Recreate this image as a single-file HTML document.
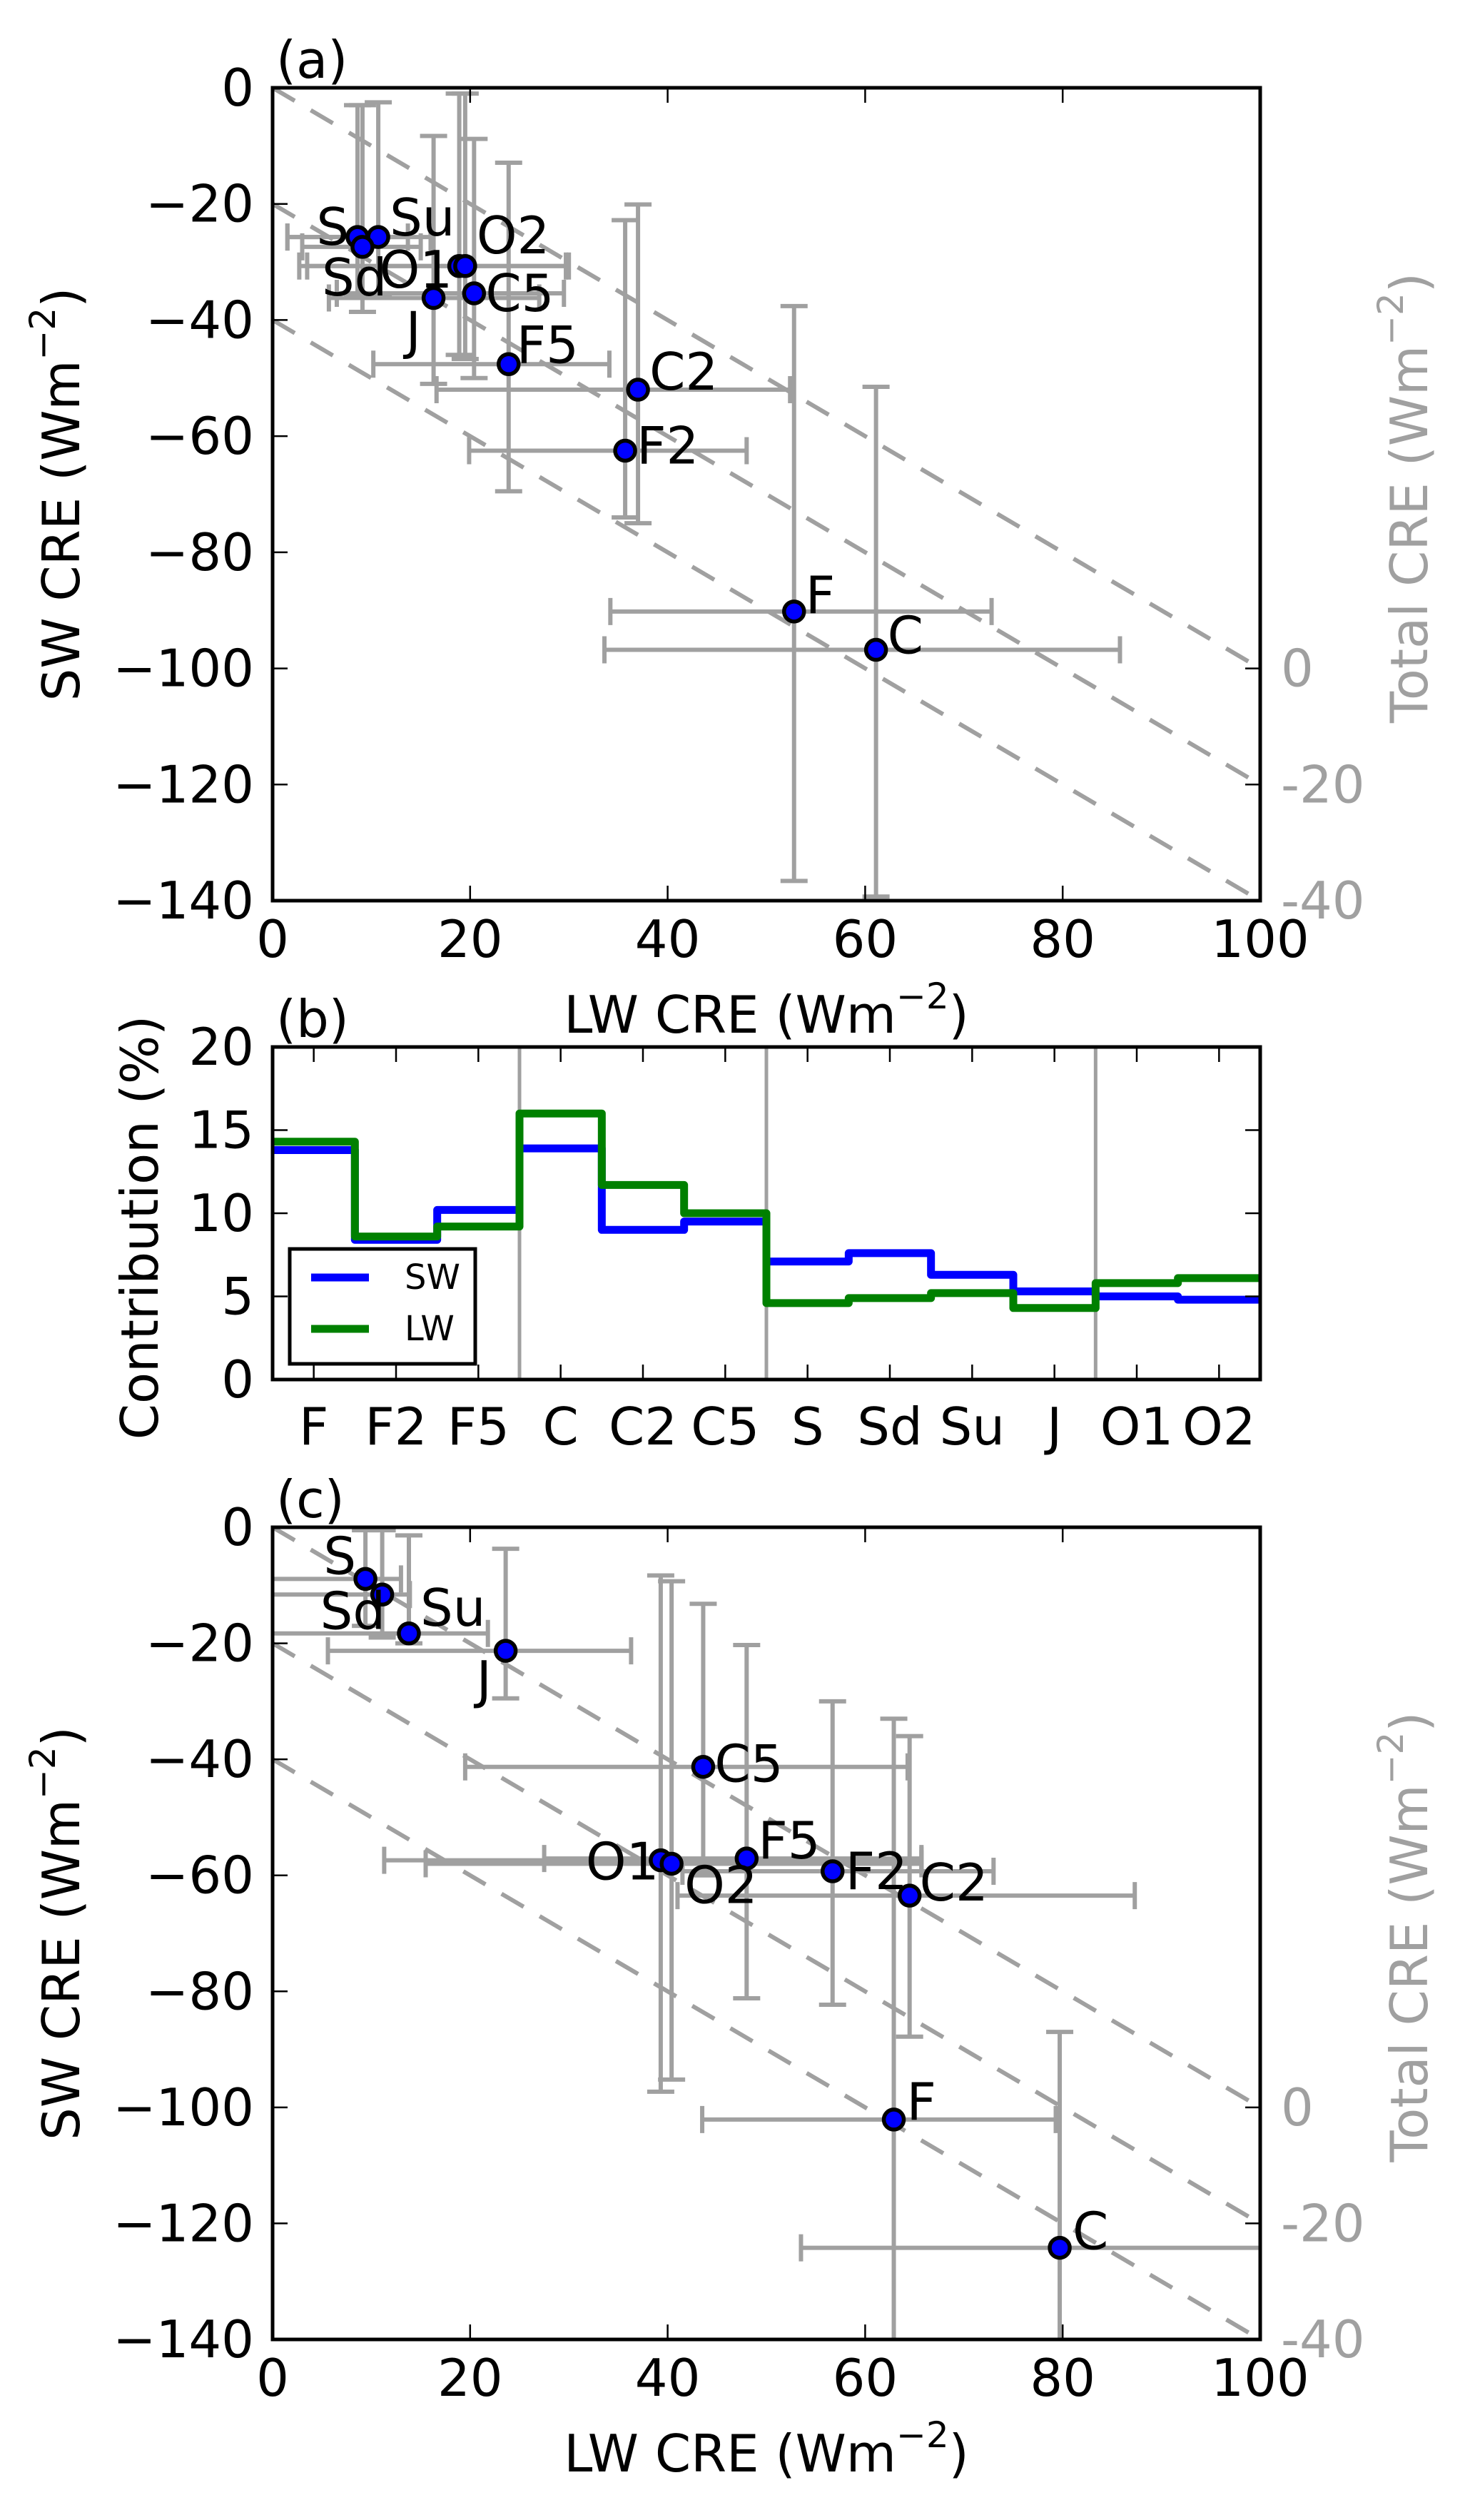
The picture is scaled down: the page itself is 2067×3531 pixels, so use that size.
<!DOCTYPE html>
<html><head><meta charset="utf-8"><style>
html,body{margin:0;padding:0;background:#fff;}
svg{display:block;font-family:"DejaVu Sans","Liberation Sans",sans-serif;}
</style></head><body>
<svg id="fig" xmlns="http://www.w3.org/2000/svg" width="2067" height="3531" viewBox="0 0 2067 3531"></svg>
<script>
// ---------- Panel (a) data ----------
const aNames = ["S","Su","Sd","O1","O2","J","C5","F5","C2","F2","F","C"];
const aLW    = [8.6,10.7,9.1,18.9,19.5,16.3,20.4,23.9,37.0,35.7,52.8,61.1];
const aSW    = [-25.7,-25.7,-27.4,-30.7,-30.7,-36.2,-35.4,-47.6,-52.0,-62.5,-90.2,-96.8];
const aLWlo  = [1.5,1.5,3.0,2.7,3.5,5.7,6.5,10.2,16.6,19.9,34.2,33.6];
const aLWhi  = [16.0,13.7,15.0,29.7,30.0,27.0,29.5,34.1,52.4,48.0,72.8,85.8];
const aSWhi  = [-3.0,-2.5,-3.0,-1.0,-1.0,-8.3,-8.8,-12.9,-20.1,-22.8,-37.6,-51.5];
const aSWlo  = [-36.0,-36.0,-38.6,-46.0,-46.7,-51.0,-50.0,-69.5,-75.0,-74.0,-136.6,-139.3];
const aLabDx = [-12,16,-57,-112,16,-39,16,11,16,16,16,16];
const aLabDy = [-14,-27,43,5,-43,46,0,-27,-25,-7,-23,-20];
const aLabAnchor = ["end","start","start","start","start","start","start","start","start","start","start","start"];

// ---------- Panel (c) data ----------
const cNames = ["S","Sd","Su","J","C5","O1","O2","F5","F2","C2","F","C"];
const cLW    = [9.4,11.1,13.8,23.6,43.6,39.3,40.4,48.0,56.7,64.5,62.9,79.7];
const cSW    = [-8.9,-11.6,-18.3,-21.3,-41.3,-57.4,-58.0,-57.1,-59.3,-63.5,-102.1,-124.2];
const cLWlo  = [-5,-5,-5,5.6,19.5,11.3,15.5,27.5,41.5,41.0,43.5,53.5];
const cLWhi  = [13.0,13.9,21.8,36.3,64.3,65.7,65.7,65.7,73.0,87.3,79.3,110];
const cSWhi  = [-0.5,-0.5,-1.4,-3.7,-13.2,-8.3,-9.3,-20.3,-30.0,-36.0,-33.0,-87.0];
const cSWlo  = [-17.0,-19.0,-20.0,-29.5,-60.0,-97.3,-95.2,-81.2,-82.3,-87.8,-150,-150];
const cLabDx = [-13,-87,16,-41,16,-105,18,16,18,14,18,18];
const cLabDy = [-32,23,-36,41,-4,2,30,-25,0,-18,-25,-23];
const cLabAnchor = ["end","start","start","start","start","start","start","start","start","start","start","start"];

// ---------- Panel (b) data ----------
const bCats = ["F","F2","F5","C","C2","C5","S","Sd","Su","J","O1","O2"];
const bSW   = [13.8,8.4,10.2,13.9,9.0,9.5,7.1,7.6,6.3,5.3,5.0,4.8];
const bLW   = [14.3,8.6,9.2,16.0,11.7,10.0,4.6,4.9,5.2,4.3,5.8,6.1];
const bGroupEdges = [3,6,10];
const bYTicks = [0,5,10,15,20];

const xTicks = [0,20,40,60,80,100];
const yTicks = [0,-20,-40,-60,-80,-100,-120,-140];
const totals = [0,-20,-40];

const NS = "http://www.w3.org/2000/svg";
const svg = document.getElementById('fig');
const GRAY = "#a0a0a0";
const FS = 72;
function el(tag, attrs, parent){
  const e = document.createElementNS(NS, tag);
  for (const k in attrs) e.setAttribute(k, attrs[k]);
  (parent||svg).appendChild(e);
  return e;
}
function text(str, x, y, extra, parent){
  const t = el('text', Object.assign({x:x, y:y, 'font-size':FS, fill:'#000'}, extra||{}), parent);
  t.textContent = str;
  return t;
}
function unitTitle(prefix, x, y, rot, color, name){
  const g = el('g', {transform:`translate(${x},${y})` + (rot?` rotate(${rot})`:'')});
  
  
  const t = el('text', {x:0, y:0, 'font-size':FS, fill:color, 'text-anchor':'middle', 'dominant-baseline':'central'}, g);
  t.appendChild(document.createTextNode(prefix + " (Wm"));
  const s = el('tspan', {'font-size':50, dy:-26}, t); s.textContent = "\u22122";
  const r = el('tspan', {'font-size':FS, dy:26}, t); r.textContent = ")";
  return g;
}

const X0 = 382, X1 = 1766;
function scatterPanel(top, bottom, names, LW, SW, LWlo, LWhi, SWhi, SWlo, dx, dy, anch, letter, pname){
  const xs = v => X0 + (v/100)*(X1-X0);
  const ys = v => top + (-v/140)*(bottom-top);
  const g = el('g', {});
  
  
  const cid = 'clip'+letter;
  const cp = el('clipPath', {id:cid}, g);
  el('rect', {x:X0, y:top, width:X1-X0, height:bottom-top}, cp);
  const inner = el('g', {'clip-path':`url(#${cid})`}, g);
  totals.forEach((t, i) => {
    const ln = el('line', {x1:xs(0), y1:ys(t), x2:xs(100), y2:ys(t-100), stroke:GRAY, 'stroke-width':6, 'stroke-dasharray':'36 26'}, inner);
    
    
  });
  names.forEach((n, i) => {
    const eb = el('g', {stroke:GRAY, 'stroke-width':6, fill:'none'}, inner);
    
    
    const px = xs(LW[i]), py = ys(SW[i]);
    el('line', {x1:xs(LWlo[i]), y1:py, x2:xs(LWhi[i]), y2:py}, eb);
    el('line', {x1:xs(LWlo[i]), y1:py-19, x2:xs(LWlo[i]), y2:py+19}, eb);
    el('line', {x1:xs(LWhi[i]), y1:py-19, x2:xs(LWhi[i]), y2:py+19}, eb);
    el('line', {x1:px, y1:ys(SWhi[i]), x2:px, y2:ys(SWlo[i])}, eb);
    el('line', {x1:px-19, y1:ys(SWhi[i]), x2:px+19, y2:ys(SWhi[i])}, eb);
    el('line', {x1:px-19, y1:ys(SWlo[i]), x2:px+19, y2:ys(SWlo[i])}, eb);
  });
  names.forEach((n, i) => {
    const px = xs(LW[i]), py = ys(SW[i]);
    const c = el('circle', {cx:px, cy:py, r:14, fill:'#0000ff', stroke:'#000', 'stroke-width':5.5}, g);
    
    
  });
  names.forEach((n, i) => {
    const px = xs(LW[i]), py = ys(SW[i]);
    const t = text(n, px+dx[i], py+dy[i], {'text-anchor':anch[i], 'dominant-baseline':'central'}, g);
    
    
  });
  const fr = el('rect', {x:X0, y:top, width:X1-X0, height:bottom-top, fill:'none', stroke:'#000', 'stroke-width':5}, g);
  
  
  xTicks.forEach(v => {
    const x = xs(v);
    el('line', {x1:x, y1:bottom, x2:x, y2:bottom-21, stroke:'#000', 'stroke-width':2.5}, g);
    el('line', {x1:x, y1:top, x2:x, y2:top+21, stroke:'#000', 'stroke-width':2.5}, g);
    const t = text(String(v), x, bottom+54, {'text-anchor':'middle', 'dominant-baseline':'central'}, g);
    
    
  });
  yTicks.forEach(v => {
    const y = ys(v);
    el('line', {x1:X0, y1:y, x2:X0+21, y2:y, stroke:'#000', 'stroke-width':2.5}, g);
    const t = text(v<0 ? '\u2212'+(-v) : String(v), 356, y, {'text-anchor':'end', 'dominant-baseline':'central'}, g);
    
    
  });
  totals.forEach(t0 => {
    const y = ys(t0-100);
    el('line', {x1:X1, y1:y, x2:X1-21, y2:y, stroke:'#000', 'stroke-width':2.5}, g);
    const t = text(t0<0 ? '-'+(-t0) : String(t0), 1795, y, {'text-anchor':'start', 'dominant-baseline':'central', fill:GRAY}, g);
    
    
  });
  const pl = text('('+letter+')', 387, top-14, {}, g);
  
  
  unitTitle('LW CRE', (X0+X1)/2, bottom+160, 0, '#000', 'x-axis-title');
  unitTitle('SW CRE', 86, (top+bottom)/2, -90, '#000', 'y-axis-title');
  unitTitle('Total CRE', 1975, (top+bottom)/2+5, -90, GRAY, 'right-axis-title');
}

scatterPanel(123, 1262, aNames, aLW, aSW, aLWlo, aLWhi, aSWhi, aSWlo, aLabDx, aLabDy, aLabAnchor, 'a', 'panel-a');
scatterPanel(2140, 3278, cNames, cLW, cSW, cLWlo, cLWhi, cSWhi, cSWlo, cLabDx, cLabDy, cLabAnchor, 'c', 'panel-c');

// ---------- Panel (b) ----------
(function(){
  const top = 1467, bottom = 1933;
  const n = bCats.length;
  const xe = e => X0 + e*(X1-X0)/n;
  const ys = v => bottom - (v/20)*(bottom-top);
  const g = el('g', {});
  
  
  bGroupEdges.forEach(e => {
    const l = el('line', {x1:xe(e), y1:top, x2:xe(e), y2:bottom, stroke:GRAY, 'stroke-width':5}, g);
    
    
  });
  function stepPath(vals){
    let d = `M${xe(0)},${ys(vals[0])}`;
    vals.forEach((v,i) => {
      d += ` L${xe(i)},${ys(v)} L${xe(i+1)},${ys(v)}`;
    });
    return d;
  }
  const sw = el('path', {d:stepPath(bSW), fill:'none', stroke:'#0000ff', 'stroke-width':11, 'stroke-linejoin':'round'}, g);
  
  
  const lw = el('path', {d:stepPath(bLW), fill:'none', stroke:'#008000', 'stroke-width':11, 'stroke-linejoin':'round'}, g);
  
  
  const fr = el('rect', {x:X0, y:top, width:X1-X0, height:bottom-top, fill:'none', stroke:'#000', 'stroke-width':5}, g);
  
  
  bCats.forEach((c,i) => {
    const x = xe(i+0.5);
    el('line', {x1:x, y1:bottom, x2:x, y2:bottom-21, stroke:'#000', 'stroke-width':2.5}, g);
    el('line', {x1:x, y1:top, x2:x, y2:top+21, stroke:'#000', 'stroke-width':2.5}, g);
    const t = text(c, x, bottom+66, {'text-anchor':'middle', 'dominant-baseline':'central'}, g);
    
    
  });
  bYTicks.forEach(v => {
    const y = ys(v);
    el('line', {x1:X0, y1:y, x2:X0+21, y2:y, stroke:'#000', 'stroke-width':2.5}, g);
    el('line', {x1:X1, y1:y, x2:X1-21, y2:y, stroke:'#000', 'stroke-width':2.5}, g);
    const t = text(String(v), 356, y, {'text-anchor':'end', 'dominant-baseline':'central'}, g);
    
    
  });
  const yt = text('Contribution (%)', 0, 0, {'text-anchor':'middle', 'dominant-baseline':'central', transform:`translate(196,1720) rotate(-90)`}, g);
  
  
  const pl = text('(b)', 387, top-14, {}, g);
  
  
  const lg = el('g', {}, g);
  
  
  el('rect', {x:406, y:1750, width:260, height:161, fill:'#fff', stroke:'#000', 'stroke-width':5}, lg);
  const e1 = el('line', {x1:436, y1:1790, x2:517, y2:1790, stroke:'#0000ff', 'stroke-width':11}, lg);
  
  
  const e2 = el('line', {x1:436, y1:1862, x2:517, y2:1862, stroke:'#008000', 'stroke-width':11}, lg);
  
  
  text('SW', 567, 1790, {'font-size':48, 'dominant-baseline':'central'}, lg);
  text('LW', 567, 1862, {'font-size':48, 'dominant-baseline':'central'}, lg);
})();
</script>
</body></html>
